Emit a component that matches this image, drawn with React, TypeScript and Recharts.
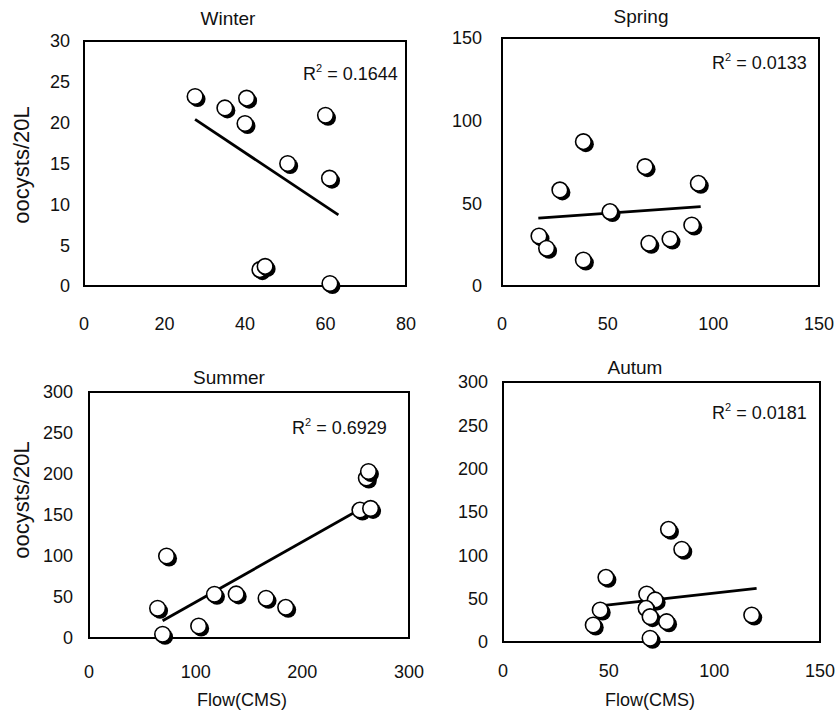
import React from 'react';
import { ScatterChart, Scatter, XAxis, YAxis, ReferenceArea } from 'recharts';

// flow (CMS) vs oocysts/20L
const winterFlow = [27.6, 35.0, 40.4, 40.0, 50.6, 60.0, 61.0, 43.7, 45.0, 61.1];
const winterOocysts = [23.2, 21.8, 23.0, 19.9, 15.0, 20.9, 13.2, 2.0, 2.4, 0.3];
const winterTrendFlow = [27.6, 63.2];
const winterTrendOocysts = [20.4, 8.7];

const springFlow = [38.5, 67.7, 92.9, 27.4, 51.1, 17.5, 21.1, 38.5, 69.5, 79.5, 89.8];
const springOocysts = [87.3, 72.2, 62.1, 58.1, 45.0, 30.2, 22.8, 15.7, 25.8, 28.4, 36.9];
const springTrendFlow = [17.2, 94.0];
const springTrendOocysts = [41.0, 48.0];

const summerFlow = [72.7, 64.3, 69.0, 102.8, 117.6, 138, 166, 184.4, 260, 262, 254, 264];
const summerOocysts = [100, 36.2, 4.5, 14.6, 53.3, 53.7, 48.4, 37.4, 195, 203, 156, 158];
const summerTrendFlow = [69, 265];
const summerTrendOocysts = [21, 165];

const autumnFlow = [78.3, 84.6, 48.7, 68.0, 72.0, 46.0, 67.7, 69.6, 77.4, 42.7, 69.6, 117.7];
const autumnOocysts = [130, 107, 74.6, 55.4, 48.5, 36.9, 38.8, 29.2, 23.4, 19.6, 4.3, 31.1];
const autumnTrendFlow = [42.7, 120];
const autumnTrendOocysts = [40.7, 62];

const winterXTicks = [0, 20, 40, 60, 80];
const winterYTicks = [0, 5, 10, 15, 20, 25, 30];
const springXTicks = [0, 50, 100, 150];
const springYTicks = [0, 50, 100, 150];
const summerXTicks = [0, 100, 200, 300];
const summerYTicks = [0, 50, 100, 150, 200, 250, 300];
const autumnXTicks = [0, 50, 100, 150];
const autumnYTicks = [0, 50, 100, 150, 200, 250, 300];

const FONT = '"Liberation Sans", Arial, Helvetica, sans-serif';
const INK = '#111';

const zip = (xs: number[], ys: number[]) => xs.map((x, i) => ({ x, y: ys[i] }));

const ShadowDot = (props: any) => {
    const { cx, cy } = props;
    if (cx == null || cy == null) return <g />;
    return (
        <g>
            <circle cx={cx + 2.5} cy={cy + 2.5} r={8} fill="#000" />
            <circle cx={cx} cy={cy} r={7.8} fill="#fff" stroke="#000" strokeWidth={1.6} />
        </g>
    );
};

const NoDot = () => <g />;

interface PanelProps {
    chart: { left: number; top: number; width: number; height: number };
    box: { left: number; top: number; right: number; bottom: number };
    flow: number[];
    oocysts: number[];
    trendFlow: number[];
    trendOocysts: number[];
    xTicks: number[];
    yTicks: number[];
    yGap: number;
    xGap: number;
}

const Y_W = 80;
const X_H = 50;

function Panel({ chart, box, flow, oocysts, trendFlow, trendOocysts, xTicks, yTicks, yGap, xGap }: PanelProps) {
    const margin = {
        top: box.top - chart.top,
        left: box.left - chart.left - Y_W,
        right: chart.left + chart.width - box.right,
        bottom: chart.top + chart.height - box.bottom - X_H,
    };
    const xMax = xTicks[xTicks.length - 1];
    const yMax = yTicks[yTicks.length - 1];
    const tickStyle = { fill: INK, fontSize: 18, fontFamily: FONT };
    return (
        <div style={{ position: 'absolute', left: chart.left, top: chart.top }}>
            <ScatterChart width={chart.width} height={chart.height} margin={margin}>
                <XAxis
                    type="number"
                    dataKey="x"
                    domain={[0, xMax]}
                    ticks={xTicks}
                    height={X_H}
                    tick={tickStyle}
                    tickSize={0}
                    tickMargin={xGap}
                    axisLine={false}
                    interval={0}
                />
                <YAxis
                    type="number"
                    dataKey="y"
                    domain={[0, yMax]}
                    ticks={yTicks}
                    width={Y_W}
                    tick={tickStyle}
                    tickSize={0}
                    tickMargin={yGap}
                    axisLine={false}
                    interval={0}
                />
                <ReferenceArea x1={0} x2={xMax} y1={0} y2={yMax} fill="none" stroke="#000" strokeWidth={2} />
                <Scatter
                    data={zip(trendFlow, trendOocysts)}
                    shape={NoDot}
                    line={{ stroke: '#000', strokeWidth: 2.8 }}
                    isAnimationActive={false}
                />
                <Scatter data={zip(flow, oocysts)} shape={ShadowDot} isAnimationActive={false} />
            </ScatterChart>
        </div>
    );
}

const Label = ({ x, y, children, size = 18, rotate = 0 }: any) => (
    <div
        style={{
            position: 'absolute',
            left: x,
            top: y,
            transform: `translate(-50%, -50%) rotate(${rotate}deg)`,
            fontFamily: FONT,
            fontSize: size,
            color: INK,
            whiteSpace: 'nowrap',
            lineHeight: 1,
        }}
    >
        {children}
    </div>
);

const R2 = ({ x, y, value }: { x: number; y: number; value: string }) => (
    <div
        style={{
            position: 'absolute',
            left: x,
            top: y,
            transform: 'translateY(-50%)',
            fontFamily: FONT,
            fontSize: 18,
            color: INK,
            whiteSpace: 'nowrap',
            lineHeight: 1,
        }}
    >
        R<sup style={{ fontSize: 11, verticalAlign: 8 }}>2</sup> = {value}
    </div>
);

export default function App() {
    return (
        <div style={{ position: 'absolute', left: 0, top: 0, width: 837, height: 717, background: '#fff', overflow: 'hidden' }}>
            <Panel
                chart={{ left: 0, top: 0, width: 428, height: 340 }}
                box={{ left: 84, top: 41, right: 406, bottom: 286 }}
                flow={winterFlow}
                oocysts={winterOocysts}
                trendFlow={winterTrendFlow}
                trendOocysts={winterTrendOocysts}
                xTicks={winterXTicks}
                yTicks={winterYTicks}
                yGap={14}
                xGap={31}
            />
            <Panel
                chart={{ left: 420, top: 0, width: 417, height: 340 }}
                box={{ left: 502, top: 38, right: 819, bottom: 286 }}
                flow={springFlow}
                oocysts={springOocysts}
                trendFlow={springTrendFlow}
                trendOocysts={springTrendOocysts}
                xTicks={springXTicks}
                yTicks={springYTicks}
                yGap={20}
                xGap={31}
            />
            <Panel
                chart={{ left: 0, top: 350, width: 432, height: 367 }}
                box={{ left: 89, top: 392, right: 409, bottom: 638 }}
                flow={summerFlow}
                oocysts={summerOocysts}
                trendFlow={summerTrendFlow}
                trendOocysts={summerTrendOocysts}
                xTicks={summerXTicks}
                yTicks={summerYTicks}
                yGap={16}
                xGap={27}
            />
            <Panel
                chart={{ left: 420, top: 350, width: 417, height: 367 }}
                box={{ left: 503, top: 382, right: 820, bottom: 642 }}
                flow={autumnFlow}
                oocysts={autumnOocysts}
                trendFlow={autumnTrendFlow}
                trendOocysts={autumnTrendOocysts}
                xTicks={autumnXTicks}
                yTicks={autumnYTicks}
                yGap={15}
                xGap={22}
            />

            <Label x={228} y={18} size={19}>Winter</Label>
            <Label x={641} y={16} size={19}>Spring</Label>
            <Label x={229} y={377} size={19}>Summer</Label>
            <Label x={635} y={367} size={19}>Autum</Label>

            <Label x={22} y={165} size={22} rotate={-90}>oocysts/20L</Label>
            <Label x={22} y={500} size={22} rotate={-90}>oocysts/20L</Label>

            <Label x={242} y={700} size={18}>Flow(CMS)</Label>
            <Label x={650} y={700} size={18}>Flow(CMS)</Label>

            <R2 x={303} y={73} value="0.1644" />
            <R2 x={712} y={62} value="0.0133" />
            <R2 x={292} y={427} value="0.6929" />
            <R2 x={712} y={412} value="0.0181" />
        </div>
    );
}
